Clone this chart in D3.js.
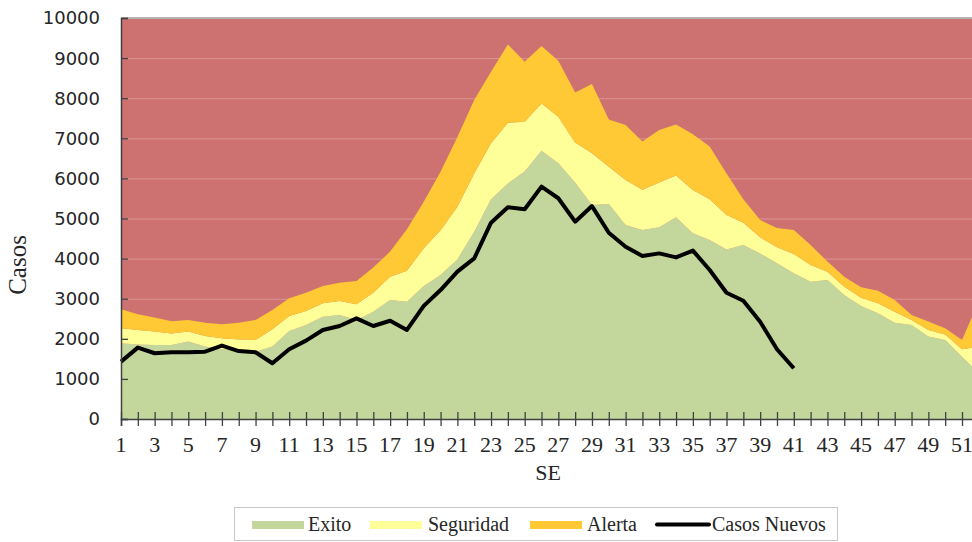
<!DOCTYPE html>
<html>
<head>
<meta charset="utf-8">
<script src="https://cdn.jsdelivr.net/npm/d3@7"></script>
<style>
    body { margin: 0; background: #fff; }
    svg { display: block; }
</style>
</head>
<body>
<div id="chart"></div>
<script>
// semana epidemiologica
let weeks = [1,2,3,4,5,6,7,8,9,10,11,12,13,14,15,16,17,18,19,20,21,22,23,24,25,26,
    27,28,29,30,31,32,33,34,35,36,37,38,39,40,41,42,43,44,45,46,47,48,49,50,51,52];

// zonas del canal endemico (valores apilados)
let exito = [1890,1860,1845,1845,1930,1805,1740,1720,1680,1805,2195,2345,2550,2595,2470,2675,2970,2925,
    3315,3590,3980,4670,5480,5875,6170,6690,6375,5895,5335,5360,4840,4715,4780,5030,4630,4465,
    4230,4340,4130,3885,3635,3425,3465,3090,2820,2635,2400,2345,2055,1970,1555,1140];
let seguridad = [375,360,335,290,250,265,275,265,290,435,375,350,335,350,390,475,580,775,
    940,1120,1310,1455,1395,1510,1245,1180,1165,1000,1290,930,1120,1000,1115,1040,1080,1015,
    855,555,400,400,480,415,210,210,205,250,275,125,165,140,185,665];
let alerta = [475,390,350,305,290,330,350,415,500,480,440,455,430,455,580,625,625,1030,
    1165,1455,1745,1830,1785,1955,1495,1430,1395,1245,1730,1180,1370,1205,1315,1275,1390,1315,
    1040,585,430,475,600,500,250,250,260,315,290,125,210,150,230,1135];

// casos nuevos, semanas 1 a 41
let casos = [1430,1780,1640,1665,1665,1680,1830,1695,1665,1390,1740,1955,2220,2320,2510,2320,2450,2220,
    2820,3215,3675,4005,4895,5280,5230,5795,5505,4920,5310,4645,4295,4065,4130,4030,4200,3715,
    3150,2950,2425,1740,1265];

let yTicks = [0,1000,2000,3000,4000,5000,6000,7000,8000,9000,10000];
let xLabels = [1,3,5,7,9,11,13,15,17,19,21,23,25,27,29,31,33,35,37,39,41,43,45,47,49,51];

let series_names = ["Exito", "Seguridad", "Alerta"];
let fill_colors = ["#C3D69B", "#FFFF99", "#FFC935"];
let brote_color = "#CD7271";

let width = 972, height = 542;
let margin = {top: 18, left: 121, bottom: 123};
let plotBottom = height - margin.bottom;
let step = 16.82;

let svg = d3.select("#chart").append("svg")
    .attr("width", width)
    .attr("height", height);

let xScale = d3.scaleLinear()
    .domain([1, 52])
    .range([margin.left, margin.left + 51 * step]);

let yScale = d3.scaleLinear()
    .domain([0, 10000])
    .range([plotBottom, margin.top]);

// fondo rojo = zona de brote
svg.append("rect")
    .attr("x", xScale(1))
    .attr("y", yScale(10000))
    .attr("width", xScale(52) - xScale(1))
    .attr("height", yScale(0) - yScale(10000))
    .style("fill", brote_color);

// lineas de cuadricula
svg.append("g")
    .selectAll("line")
    .data(yTicks.filter(function(d) { return d > 0 && d < 10000; }))
    .enter().append("line")
    .attr("x1", xScale(1))
    .attr("x2", width)
    .attr("y1", function(d) { return yScale(d) + 0.5; })
    .attr("y2", function(d) { return yScale(d) + 0.5; })
    .style("stroke", "#d99695")
    .style("stroke-width", 1);

svg.append("line")
    .attr("x1", xScale(1))
    .attr("x2", width)
    .attr("y1", yScale(10000))
    .attr("y2", yScale(10000))
    .style("stroke", "#b4b4b4")
    .style("stroke-width", 2);

// areas apiladas
let table = weeks.map(function(w, i) {
    return {week: w, Exito: exito[i], Seguridad: seguridad[i], Alerta: alerta[i]};
});
let stacked = d3.stack().keys(series_names)(table);

let area = d3.area()
    .x(function(d) { return xScale(d.data.week); })
    .y0(function(d) { return yScale(d[0]); })
    .y1(function(d) { return yScale(d[1]); });

svg.append("g")
    .selectAll("path")
    .data(stacked)
    .enter().append("path")
    .attr("d", area)
    .style("fill", function(d, i) { return fill_colors[i]; });

// linea de casos nuevos
let line = d3.line()
    .x(function(d, i) { return xScale(weeks[i]); })
    .y(function(d) { return yScale(d); });

svg.append("path")
    .datum(casos)
    .attr("d", line)
    .style("fill", "none")
    .style("stroke", "#000")
    .style("stroke-width", 4)
    .style("stroke-linejoin", "round");

// eje Y
let yAxis = svg.append("g")
    .attr("transform", "translate(" + margin.left + ",0)")
    .call(d3.axisRight(yScale).tickValues(yTicks).tickSize(7).tickFormat(""));
yAxis.select(".domain").style("stroke", "#404040").style("stroke-width", 1.5);
yAxis.selectAll(".tick line").style("stroke", "#404040").style("stroke-width", 1.3);

svg.append("g")
    .selectAll("text")
    .data(yTicks)
    .enter().append("text")
    .attr("x", 100)
    .attr("y", function(d) { return yScale(d); })
    .attr("dy", "0.36em")
    .attr("text-anchor", "end")
    .style("font-family", "'DejaVu Sans', sans-serif")
    .style("font-size", "18px")
    .style("fill", "#262626")
    .text(function(d) { return d; });

// eje X
let xAxis = svg.append("g")
    .attr("transform", "translate(0," + plotBottom + ")")
    .call(d3.axisBottom(xScale).tickValues(weeks).tickSize(7).tickFormat(""));
xAxis.select(".domain").style("stroke", "#404040").style("stroke-width", 1.5);
xAxis.selectAll(".tick line")
    .attr("y1", -7)
    .style("stroke", "#404040")
    .style("stroke-width", 1.3);

svg.append("g")
    .selectAll("text")
    .data(xLabels)
    .enter().append("text")
    .attr("x", function(d) { return xScale(d); })
    .attr("y", 452)
    .attr("text-anchor", "middle")
    .style("font-family", "'Liberation Serif', serif")
    .style("font-size", "22px")
    .style("fill", "#262626")
    .text(function(d) { return d; });

// titulos de ejes
svg.append("text")
    .attr("x", 548)
    .attr("y", 480)
    .attr("text-anchor", "middle")
    .style("font-family", "'Liberation Serif', serif")
    .style("font-size", "22px")
    .style("fill", "#262626")
    .text("SE");

svg.append("text")
    .attr("transform", "translate(26,265) rotate(-90)")
    .attr("text-anchor", "middle")
    .style("font-family", "'Liberation Serif', serif")
    .style("font-size", "25px")
    .style("fill", "#262626")
    .text("Casos");

// leyenda
let legend = svg.append("g");
legend.append("rect")
    .attr("x", 234.5)
    .attr("y", 507.5)
    .attr("width", 603)
    .attr("height", 33)
    .style("fill", "#fff")
    .style("stroke", "#c8c8c8")
    .style("stroke-width", 1);

let legend_items = [
    {name: "Exito", sx: 252, tx: 308, type: "area", color: fill_colors[0]},
    {name: "Seguridad", sx: 370, tx: 428, type: "area", color: fill_colors[1]},
    {name: "Alerta", sx: 530, tx: 587, type: "area", color: fill_colors[2]},
    {name: "Casos Nuevos", sx: 655, tx: 712, type: "line", color: "#000"}
];

legend_items.forEach(function(item) {
    if (item.type == "area") {
        legend.append("rect")
            .attr("x", item.sx)
            .attr("y", 521)
            .attr("width", 52)
            .attr("height", 8)
            .style("fill", item.color);
    } else {
        legend.append("line")
            .attr("x1", item.sx + 2)
            .attr("x2", item.sx + 54)
            .attr("y1", 524.5)
            .attr("y2", 524.5)
            .style("stroke", item.color)
            .style("stroke-width", 4)
            .style("stroke-linecap", "round");
    }
    legend.append("text")
        .attr("x", item.tx)
        .attr("y", 531)
        .style("font-family", "'Liberation Serif', serif")
        .style("font-size", "20px")
        .style("fill", "#262626")
        .text(item.name);
});
</script>
</body>
</html>
